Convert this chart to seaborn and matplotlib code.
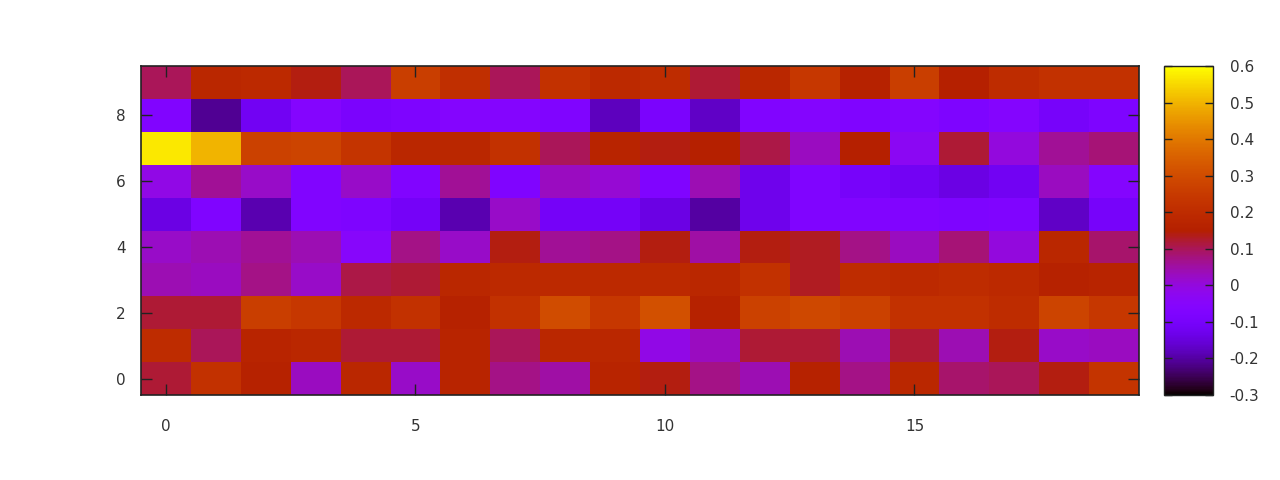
import numpy as np
import pandas as pd
import matplotlib
matplotlib.use("Agg")
import matplotlib.pyplot as plt
import seaborn as sns

# rows y=0..9, columns x=0..19
row0 = [0.12, 0.22, 0.16, 0.03, 0.18, 0.02, 0.17, 0.07, 0.05, 0.17, 0.14, 0.07, 0.04, 0.16, 0.07, 0.18, 0.09, 0.10, 0.14, 0.23]
row1 = [0.20, 0.10, 0.17, 0.18, 0.12, 0.12, 0.17, 0.10, 0.18, 0.18, -0.01, 0.03, 0.12, 0.12, 0.04, 0.12, 0.04, 0.14, 0.02, 0.03]
row2 = [0.12, 0.12, 0.26, 0.24, 0.19, 0.22, 0.16, 0.22, 0.30, 0.24, 0.31, 0.16, 0.27, 0.29, 0.27, 0.22, 0.22, 0.20, 0.28, 0.24]
row3 = [0.04, 0.03, 0.07, 0.02, 0.11, 0.12, 0.18, 0.19, 0.19, 0.19, 0.19, 0.18, 0.22, 0.13, 0.20, 0.19, 0.20, 0.19, 0.16, 0.17]
row4 = [0.02, 0.04, 0.06, 0.04, -0.05, 0.07, 0.02, 0.14, 0.06, 0.07, 0.14, 0.05, 0.14, 0.13, 0.07, 0.03, 0.08, 0.00, 0.18, 0.09]
row5 = [-0.14, -0.075, -0.19, -0.07, -0.08, -0.11, -0.19, 0.02, -0.11, -0.11, -0.14, -0.20, -0.13, -0.075, -0.07, -0.07, -0.08, -0.075, -0.17, -0.10]
row6 = [-0.01, 0.06, 0.02, -0.07, 0.02, -0.07, 0.06, -0.075, 0.03, 0.01, -0.075, 0.04, -0.13, -0.075, -0.10, -0.115, -0.14, -0.12, 0.03, -0.06]
row7 = [0.57, 0.50, 0.27, 0.28, 0.23, 0.18, 0.18, 0.22, 0.10, 0.17, 0.14, 0.15, 0.11, 0.03, 0.15, -0.03, 0.12, 0.00, 0.06, 0.08]
row8 = [-0.07, -0.21, -0.12, -0.06, -0.09, -0.08, -0.06, -0.06, -0.075, -0.18, -0.09, -0.17, -0.07, -0.06, -0.075, -0.06, -0.08, -0.06, -0.10, -0.08]
row9 = [0.10, 0.18, 0.19, 0.14, 0.10, 0.26, 0.21, 0.10, 0.22, 0.19, 0.20, 0.12, 0.18, 0.24, 0.16, 0.26, 0.15, 0.20, 0.22, 0.22]

x_ticks = [0, 5, 10, 15]
y_ticks = [0, 2, 4, 6, 8]
cb_ticks = [-0.3, -0.2, -0.1, 0, 0.1, 0.2, 0.3, 0.4, 0.5, 0.6]
cb_labels = ["-0.3", "-0.2", "-0.1", "0", "0.1", "0.2", "0.3", "0.4", "0.5", "0.6"]

data = pd.DataFrame([row0, row1, row2, row3, row4, row5, row6, row7, row8, row9])

sns.set_style("white")
plt.rcParams['font.family'] = ['DejaVu Sans']

fig = plt.figure(figsize=(12.8, 4.8), dpi=100)
ax = fig.add_axes([141/1280, 1 - 395/480, 998/1280, 329/480])
cax = fig.add_axes([1164/1280, 1 - 395/480, 49/1280, 329/480])

sns.heatmap(data, ax=ax, cbar_ax=cax, cmap="gnuplot", vmin=-0.3, vmax=0.6,
            xticklabels=False, yticklabels=False)

ax.set_axisbelow(False)
ax.set_ylim(0, 10)
ax.set_xlim(0, 20)
ax.set_xticks([t + 0.5 for t in x_ticks])
ax.set_xticklabels([str(t) for t in x_ticks])
ax.set_yticks([t + 0.5 for t in y_ticks])
ax.set_yticklabels([str(t) for t in y_ticks], rotation=0)
ax.tick_params(axis='x', pad=17)
ax.tick_params(axis='y', pad=11)
ax.tick_params(axis='both', direction='in', length=8, width=1, color='#222222',
               top=True, right=True, bottom=True, left=True,
               labelsize=11, labelcolor='#333333')
for s in ax.spines.values():
    s.set_visible(True)
    s.set_color('#222222')
    s.set_linewidth(1.2)
    s.set_zorder(5)

cbar = ax.collections[0].colorbar
cbar.set_ticks(cb_ticks)
cbar.set_ticklabels(cb_labels)
cax.set_axisbelow(False)
cax.tick_params(axis='y', direction='in', length=6, width=1, color='#222222',
                left=True, right=True, labelsize=11, labelcolor='#333333', pad=12)
cbar.outline.set_visible(True)
cbar.outline.set_edgecolor('#222222')
cbar.outline.set_linewidth(1.0)

fig.savefig("out.png", dpi=100)
